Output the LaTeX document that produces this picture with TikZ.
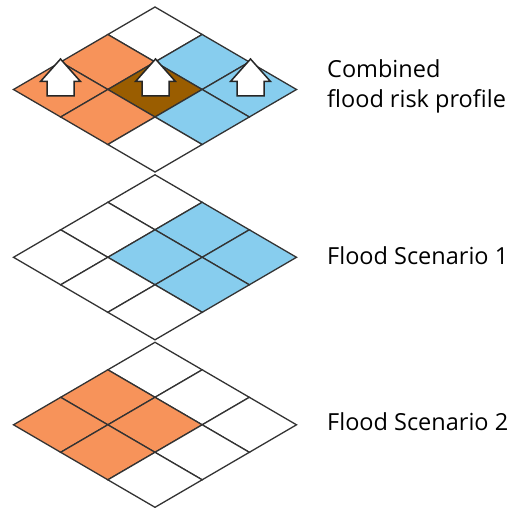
\documentclass[tikz,border=0pt]{standalone}
\usepackage{fontspec}
\setmainfont{Open Sans}
\definecolor{floodorange}{HTML}{F7935A}
\definecolor{floodblue}{HTML}{87CDEE}
\definecolor{floodbrown}{HTML}{9A5D00}

\begin{document}
\begin{tikzpicture}[x=1pt,y=-1pt,
  cell/.style={draw=black!80,line width=1.3pt,line join=miter},
  layer/.style={x={(47.17pt,-27.5pt)},y={(-47.17pt,-27.5pt)}},
  label/.style={font=\fontsize{23.5}{30.5}\selectfont,anchor=base west,align=left,inner sep=0pt},
  uparrow/.style={fill=white,draw=black!85,line width=1.5pt}]
  \useasboundingbox (0,0) rectangle (514,508);

  % combined profile on top
  \begin{scope}[shift={(155,7)},layer]
    \foreach \i/\j/\c in {0/0/white,1/0/floodblue,2/0/floodblue,
                          0/1/floodorange,1/1/floodbrown,2/1/floodblue,
                          0/2/floodorange,1/2/floodorange,2/2/white}
      \draw[cell,fill=\c] (\i,\j) -- ++(1,0) -- ++(0,1) -- ++(-1,0) -- cycle;
  \end{scope}
  \foreach \x in {60.5,155.5,250.5}
    \draw[uparrow] (\x,59) -- ++(20,22.5) -- ++(-6.5,0) -- ++(0,14.5)
      -- ++(-27,0) -- ++(0,-14.5) -- ++(-6.5,0) -- cycle;

  % scenario 1
  \begin{scope}[shift={(155,174.8)},layer]
    \foreach \i/\j/\c in {0/0/white,1/0/floodblue,2/0/floodblue,
                          0/1/white,1/1/floodblue,2/1/floodblue,
                          0/2/white,1/2/white,2/2/white}
      \draw[cell,fill=\c] (\i,\j) -- ++(1,0) -- ++(0,1) -- ++(-1,0) -- cycle;
  \end{scope}

  % scenario 2
  \begin{scope}[shift={(155,342.3)},layer]
    \foreach \i/\j/\c in {0/0/white,1/0/white,2/0/white,
                          0/1/floodorange,1/1/floodorange,2/1/white,
                          0/2/floodorange,1/2/floodorange,2/2/white}
      \draw[cell,fill=\c] (\i,\j) -- ++(1,0) -- ++(0,1) -- ++(-1,0) -- cycle;
  \end{scope}

  % the multi-line label sits on its last baseline
  \node[label] (combined) at (327,108) {Combined\\flood risk profile};
  \node[label] (scen1) at (327,264) {Flood Scenario 1};
  \node[label] (scen2) at (327,430.5) {Flood Scenario 2};
\end{tikzpicture}
\end{document}
